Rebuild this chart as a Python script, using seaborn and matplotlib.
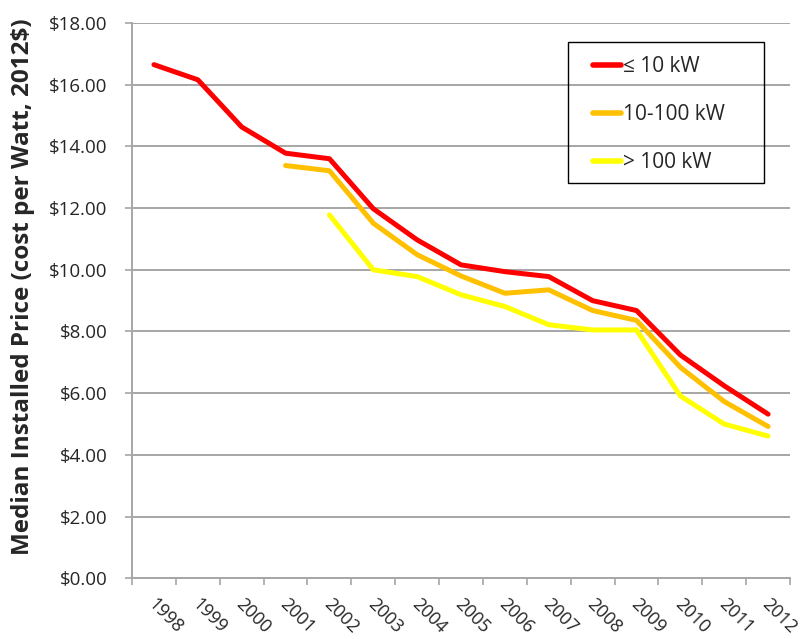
import matplotlib
matplotlib.use("Agg")
import matplotlib.pyplot as plt
import matplotlib.ticker as mticker
import matplotlib.transforms as mtransforms
from matplotlib.patches import Rectangle
import numpy as np
import pandas as pd
import seaborn as sns

years = ["1998", "1999", "2000", "2001", "2002", "2003", "2004", "2005",
         "2006", "2007", "2008", "2009", "2010", "2011", "2012"]
small = [16.65, 16.16, 14.63, 13.78, 13.60, 11.98, 10.97, 10.16,
         9.94, 9.78, 9.00, 8.68, 7.24, 6.24, 5.32]
medium = [np.nan, np.nan, np.nan, 13.38, 13.21, 11.51, 10.49, 9.80,
          9.24, 9.35, 8.68, 8.36, 6.84, 5.73, 4.92]
large = [np.nan, np.nan, np.nan, np.nan, 11.78, 10.00, 9.78, 9.19,
         8.81, 8.22, 8.05, 8.05, 5.91, 5.00, 4.61]
series_names = ["≤ 10 kW", "10-100 kW", "> 100 kW"]
colors = ["#FF0000", "#FFC000", "#FFFF00"]

frames = []
for name, vals in zip(series_names, [small, medium, large]):
    frames.append(pd.DataFrame({"year": years, "price": vals, "size": name}))
df = pd.concat(frames).dropna()

sns.set_theme(style="white")
plt.rcParams["font.family"] = ["Open Sans", "DejaVu Sans"]

fig = plt.figure(figsize=(8.06, 6.39), dpi=100)
ax = fig.add_axes([0.1638, 0.095, 0.8164, 0.869])

sns.lineplot(data=df, x="year", y="price", hue="size", hue_order=series_names,
             palette=colors, linewidth=3.6, sort=False, ax=ax,
             solid_capstyle="round", solid_joinstyle="round", legend=True)

ax.set_xlim(-0.5, len(years) - 0.5)
ax.set_ylim(0, 18)
ax.yaxis.set_major_locator(mticker.MultipleLocator(2))
ax.yaxis.set_major_formatter(mticker.FuncFormatter(lambda v, p: f"${v:.2f}"))
ax.grid(axis="y", color="#A6A6A6", linewidth=1.4)
ax.set_axisbelow(True)

for s in ["top", "right"]:
    ax.spines[s].set_visible(False)
for s in ["left", "bottom"]:
    ax.spines[s].set_color("#A6A6A6")
    ax.spines[s].set_linewidth(1.4)

ax.xaxis.set_minor_locator(mticker.FixedLocator(np.arange(-0.5, len(years), 1.0)))
ax.tick_params(axis="x", which="major", length=0, pad=17, labelsize=13)
ax.tick_params(axis="x", which="minor", bottom=True, length=5, width=1.2, color="#A6A6A6")
ax.tick_params(axis="y", left=True, length=5, width=1.2, color="#A6A6A6", pad=12.5, labelsize=13.5)
shift = mtransforms.ScaledTranslation(-3 / 100, 0, fig.dpi_scale_trans)
for lbl in ax.get_xticklabels():
    lbl.set_rotation(-45)
    lbl.set_rotation_mode("anchor")
    lbl.set_ha("left")
    lbl.set_va("center")
    lbl.set_transform(lbl.get_transform() + shift)

ax.set_xlabel("")
ax.set_ylabel("Median Installed Price (cost per Watt, 2012$)",
              fontsize=17.5, fontweight="bold")
ax.yaxis.set_label_coords(-0.147, 0.525)

ax.add_patch(Rectangle((0.663, 0.711), 0.298, 0.255, transform=ax.transAxes,
                       fill=False, edgecolor="black", linewidth=1.0, zorder=5))
handles, labels = ax.get_legend_handles_labels()
for h in handles:
    h.set_linewidth(4)
ax.legend(handles, labels, loc="upper left", bbox_to_anchor=(0.700, 0.940),
          frameon=False, fontsize=15, borderpad=0, borderaxespad=0,
          handlelength=1.38, handletextpad=0.1, labelspacing=1.3)

fig.savefig("out.png", dpi=100)
